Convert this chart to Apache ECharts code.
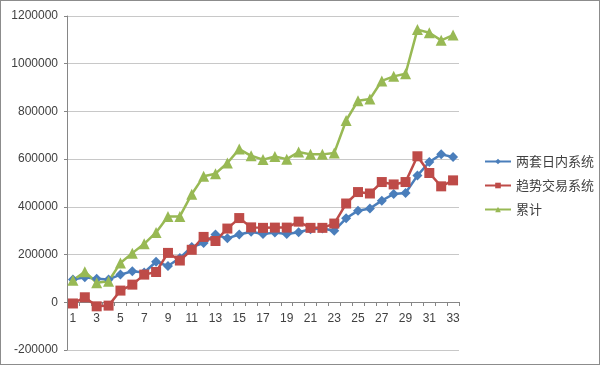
<!DOCTYPE html>
<html>
<head>
<meta charset="utf-8">
<script src="https://cdn.jsdelivr.net/npm/echarts@6/dist/echarts.min.js"></script>
<style>
html,body{margin:0;padding:0;background:#fff;}
#c{width:600px;height:365px;box-sizing:border-box;border:1px solid #8c8c8c;}
</style>
</head>
<body>
<div id="c"></div>
<script>
var categories = [];
for (var i = 1; i <= 33; i++) categories.push(String(i));

var seriesNames = ['两套日内系统', '趋势交易系统', '累计'];

var intradayValues = [95000, 105000, 99000, 96000, 116000, 130000, 125000, 170000, 152000, 186000,
  232000, 248000, 284000, 268000, 284000, 296000, 286000, 292000, 286000, 294000,
  306000, 309000, 300000, 352000, 384000, 393000, 426000, 454000, 458000, 531000,
  588000, 620000, 609000];

var trendValues = [-5000, 21000, -17000, -14000, 49000, 74000, 116000, 127000, 207000, 175000,
  220000, 274000, 257000, 309000, 353000, 314000, 312000, 313000, 313000, 338000,
  312000, 312000, 330000, 414000, 462000, 456000, 504000, 494000, 504000, 612000,
  542000, 486000, 511000];

var totalValues = [92000, 128000, 82000, 88000, 165000, 206000, 245000, 293000, 360000, 360000,
  453000, 528000, 539000, 584000, 642000, 614000, 598000, 611000, 600000, 630000,
  620000, 620000, 626000, 762000, 845000, 852000, 928000, 947000, 958000, 1143000,
  1130000, 1098000, 1120000];

var yTicks = { min: -200000, max: 1200000, interval: 200000 };

var gridTop = 15, gridBottom = 14, gridHeight = 365 - gridTop - gridBottom;
// place category axis at the value 0 line
var zeroOffset = -gridHeight * (0 - yTicks.min) / (yTicks.max - yTicks.min);

var chart = echarts.init(document.getElementById('c'), null, { renderer: 'canvas' });
var fontFam = '"Noto Sans CJK SC", "DejaVu Sans", sans-serif';
chart.setOption({
  animation: false,
  textStyle: { fontFamily: fontFam },
  grid: { left: 66, right: 140, top: gridTop, bottom: gridBottom, outerBoundsMode: 'none', containLabel: false },
  legend: {
    orient: 'vertical',
    left: 478,
    top: 149,
    itemWidth: 26,
    itemHeight: 7,
    itemGap: 11,
    textStyle: { color: '#404040', fontSize: 13, fontFamily: fontFam },
    data: seriesNames
  },
  xAxis: {
    type: 'category',
    data: categories,
    boundaryGap: true,
    position: 'bottom',
    offset: zeroOffset,
    axisLine: { show: true, onZero: false, lineStyle: { color: '#868686', width: 1 } },
    axisTick: { show: true, interval: 0, length: 4, lineStyle: { color: '#868686' } },
    axisLabel: { interval: 1, color: '#404040', fontSize: 12, margin: 11, fontFamily: '"Liberation Sans", Arial, sans-serif' },
    splitLine: { show: false }
  },
  yAxis: {
    type: 'value',
    min: yTicks.min,
    max: yTicks.max,
    interval: yTicks.interval,
    axisLine: { show: true, lineStyle: { color: '#868686', width: 1 } },
    axisTick: { show: true, length: 3, lineStyle: { color: '#868686' } },
    axisLabel: {
      color: '#404040', fontSize: 12, margin: 9, fontFamily: '"Liberation Sans", Arial, sans-serif',
      formatter: function (v) { return String(v); }
    },
    splitLine: { show: true, lineStyle: { color: '#c8c8c8', width: 1 } }
  },
  series: [
    {
      name: seriesNames[0], type: 'line', data: intradayValues,
      symbol: 'diamond', symbolSize: 10, showAllSymbol: true,
      itemStyle: { color: '#4a7ebb' },
      lineStyle: { color: '#4a7ebb', width: 2.5 }
    },
    {
      name: seriesNames[1], type: 'line', data: trendValues,
      symbol: 'rect', symbolSize: 10, showAllSymbol: true,
      itemStyle: { color: '#be4b48' },
      lineStyle: { color: '#be4b48', width: 2.5 }
    },
    {
      name: seriesNames[2], type: 'line', data: totalValues,
      symbol: 'triangle', symbolSize: 11, showAllSymbol: true,
      itemStyle: { color: '#98b954' },
      lineStyle: { color: '#98b954', width: 2.5 }
    }
  ]
});
</script>
</body>
</html>
